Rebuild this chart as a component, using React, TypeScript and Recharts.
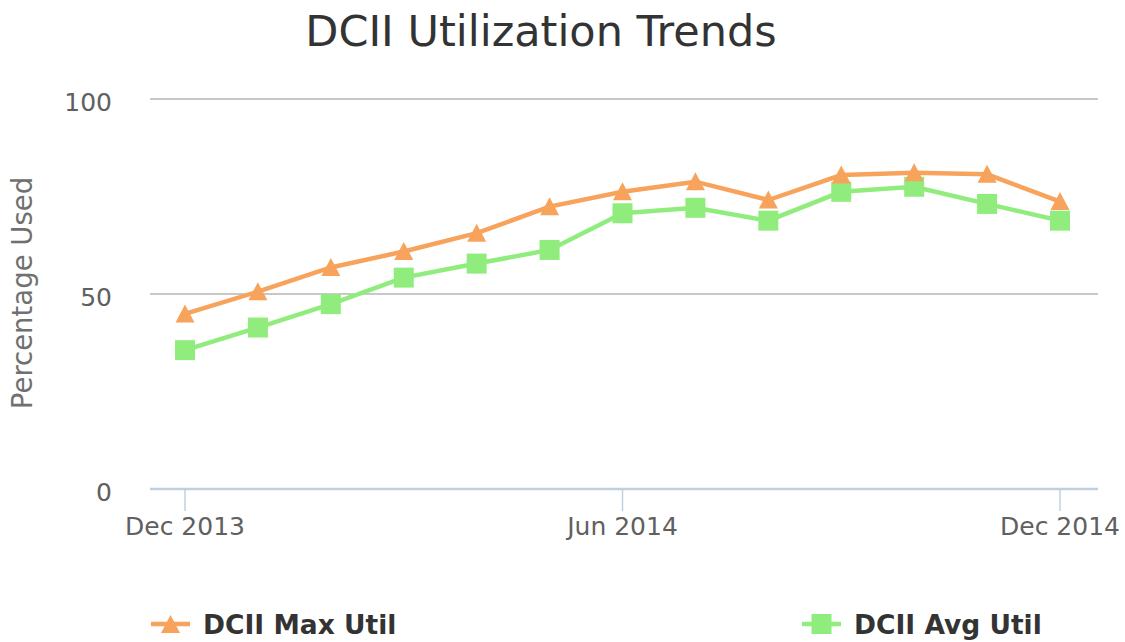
import { LineChart, Line, XAxis, YAxis, CartesianGrid, Legend } from 'recharts';

const months = [
  'Dec 2013', 'Jan 2014', 'Feb 2014', 'Mar 2014', 'Apr 2014', 'May 2014', 'Jun 2014',
  'Jul 2014', 'Aug 2014', 'Sep 2014', 'Oct 2014', 'Nov 2014', 'Dec 2014',
];
const maxUtil = [44.9, 50.6, 56.8, 60.9, 65.6, 72.4, 76.2, 78.8, 74.1, 80.5, 81.1, 80.7, 73.7];
const avgUtil = [35.6, 41.4, 47.4, 54.2, 57.8, 61.3, 70.7, 72.1, 68.8, 76.2, 77.5, 73.1, 68.8];
const yTicks = [0, 50, 100];

const data = months.map((m, i) => ({ month: m, max: maxUtil[i], avg: avgUtil[i] }));

const ORANGE = '#f7a35c';
const GREEN = '#90ed7d';
const FONT = '"DejaVu Sans", sans-serif';

const triangleDot = (props: any) => {
  const { cx, cy, index } = props;
  if (cx == null || cy == null) return <g key={`t${index}`} />;
  return (
    <path
      key={`t${index}`}
      d={`M${cx},${cy - 9.5} L${cx + 9.5},${cy + 8.5} L${cx - 9.5},${cy + 8.5} Z`}
      fill={ORANGE}
    />
  );
};

const squareDot = (props: any) => {
  const { cx, cy, index } = props;
  if (cx == null || cy == null) return <g key={`s${index}`} />;
  return <rect key={`s${index}`} x={cx - 10} y={cy - 10} width={20} height={20} fill={GREEN} />;
};

const legendItems = [
  { name: 'DCII Max Util', color: ORANGE, shape: 'triangle', left: 151 },
  { name: 'DCII Avg Util', color: GREEN, shape: 'square', left: 802 },
];

function ChartLegend() {
  return (
    <div style={{ position: 'relative', width: 1125, height: 40 }}>
      {legendItems.map((it) => (
        <div
          key={it.name}
          style={{ position: 'absolute', left: it.left, top: 2, height: 40, display: 'flex', alignItems: 'center' }}
        >
          <svg width={40} height={24} style={{ display: 'block' }}>
            <line x1={0} y1={12} x2={39} y2={12} stroke={it.color} strokeWidth={4.5} />
            {it.shape === 'triangle' ? (
              <path d="M19.5,3 L29,21 L10,21 Z" fill={it.color} />
            ) : (
              <rect x={9.5} y={2} width={20} height={20} fill={it.color} />
            )}
          </svg>
          <span
            style={{
              marginLeft: 12,
              fontFamily: FONT,
              fontWeight: 'bold',
              fontSize: 26.5,
              color: '#333333',
              whiteSpace: 'nowrap',
            }}
          >
            {it.name}
          </span>
        </div>
      ))}
    </div>
  );
}

export default function App() {
  return (
    <div style={{ position: 'absolute', left: 0, top: 0, width: 1125, height: 642, background: '#fff' }}>
      <div
        style={{
          position: 'absolute',
          left: 0,
          top: 0,
          width: 1082,
          textAlign: 'center',
          fontFamily: FONT,
          fontSize: 43,
          color: '#333333',
          lineHeight: '62px',
          whiteSpace: 'nowrap',
        }}
      >
        DCII Utilization Trends
      </div>
      <LineChart width={1125} height={642} data={data} margin={{ top: 99, right: 27, left: 0, bottom: 0 }}>
        <CartesianGrid horizontal vertical={false} stroke="#c8c8c8" strokeWidth={2} />
        <XAxis
          dataKey="month"
          interval={5}
          height={113}
          padding={{ left: 35, right: 38 }}
          axisLine={{ stroke: '#c0d0e0', strokeWidth: 2.5 }}
          tickLine={{ stroke: '#c0d0e0', strokeWidth: 1.5 }}
          tickSize={22}
          tickMargin={6}
          tick={{ fill: '#606060', fontSize: 25, fontFamily: FONT }}
        />
        <YAxis
          width={150}
          domain={[0, 100]}
          ticks={yTicks}
          axisLine={false}
          tickLine={false}
          tickSize={0}
          tickMargin={38}
          tick={{ fill: '#606060', fontSize: 25, fontFamily: FONT, dy: 3 }}
          label={(props: any) => (
            <text
              x={22}
              y={293}
              transform="rotate(-90, 22, 293)"
              textAnchor="middle"
              dominantBaseline="central"
              fill="#707070"
              fontSize={27.5}
              fontFamily={FONT}
            >
              Percentage Used
            </text>
          )}
        />
        <Legend verticalAlign="bottom" wrapperStyle={{ left: 0, bottom: 0, width: 1125, height: 40 }} content={() => <ChartLegend />} />
        <Line
          dataKey="avg"
          name="DCII Avg Util"
          stroke={GREEN}
          strokeWidth={4.5}
          dot={squareDot}
          activeDot={false}
          isAnimationActive={false}
        />
        <Line
          dataKey="max"
          name="DCII Max Util"
          stroke={ORANGE}
          strokeWidth={4.5}
          dot={triangleDot}
          activeDot={false}
          isAnimationActive={false}
        />
      </LineChart>
    </div>
  );
}
